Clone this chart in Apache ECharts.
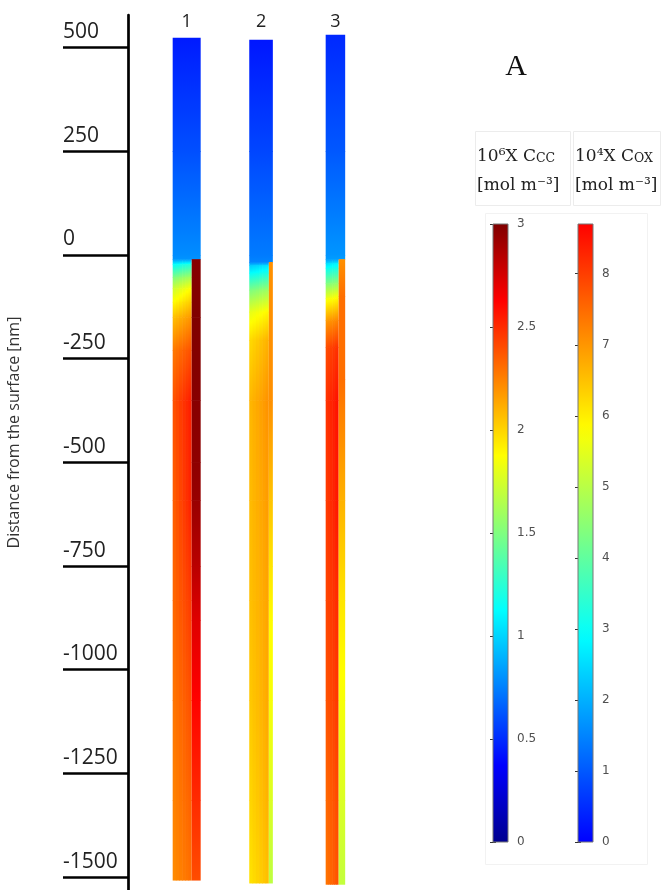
<!DOCTYPE html>
<html>
<head>
<meta charset="utf-8">
<script src="https://cdn.jsdelivr.net/npm/echarts@6.0.0/dist/echarts.min.js"></script>
<style>html,body{margin:0;padding:0;background:#fff;}#chart{width:661px;height:890px;}</style>
</head>
<body>
<div id="chart"></div>
<script>
// ---------- tick labels / categories ----------
const columnLabels = ['1', '2', '3'];
const depthTicks = [-1500, -1250, -1000, -750, -500, -250, 0, 250, 500];
const cccTicks = [0, 0.5, 1, 1.5, 2, 2.5, 3];
const coxTicks = [0, 1, 2, 3, 4, 5, 6, 7, 8];
const cccMax = 3;
const coxMax = 8.7;
const interfaceDepth = [-10, -17, -10];

// ---------- column 1 ----------
const col1OxDepth = [524, 250, 0, -10, -22, -53, -80, -113, -150, -229, -350, -591, -832, -1073, -1314, -1507];
const col1OxLeft  = [0.3, 0.9, 1.6, 1.7, 2.9, 4.3, 5.2, 5.8, 6.5, 7.3, 7.75, 7.6, 7.5, 7.35, 7.2, 7.1];
const col1OxRight = [0.3, 0.9, 1.6, 1.7, 3.3, 4.8, 5.8, 6.4, 7.0, 7.8, 8.4, 8.35, 8.05, 7.8, 7.6, 7.45];
const col1CcDepth = [-10, -150, -350, -500, -591, -750, -880, -1073, -1314, -1507];
const col1Cc      = [2.98, 3.0, 2.98, 2.96, 2.93, 2.83, 2.72, 2.62, 2.5, 2.4];

// ---------- column 2 ----------
const col2OxDepth = [519, 250, 0, -17, -25, -43, -84, -137, -205, -350, -591, -832, -1073, -1314, -1514];
const col2OxLeft  = [0.25, 0.8, 1.4, 1.5, 2.3, 2.9, 4.3, 5.5, 6.2, 6.6, 6.55, 6.5, 6.4, 6.25, 6.1];
const col2OxRight = [0.25, 0.8, 1.4, 1.5, 2.6, 3.2, 4.7, 5.9, 6.7, 7.05, 6.95, 6.85, 6.8, 6.7, 6.55];
const col2CcDepth = [-17, -350, -591, -750, -880, -1073, -1314, -1514];
const col2Cc      = [2.2, 2.2, 2.05, 1.95, 1.88, 1.85, 1.77, 1.68];

// ---------- column 3 ----------
const col3OxDepth = [531, 250, 0, -10, -20, -31, -68, -104, -157, -222, -350, -591, -832, -1073, -1314, -1517];
const col3OxLeft  = [0.45, 1.0, 1.7, 1.8, 2.5, 3.0, 4.3, 5.6, 6.9, 7.8, 8.1, 8.0, 7.9, 7.75, 7.5, 7.35];
const col3OxRight = [0.45, 1.0, 1.7, 1.8, 2.8, 3.2, 4.6, 5.9, 7.2, 8.2, 8.55, 8.5, 8.25, 8.1, 7.9, 7.8];
const col3CcDepth = [-10, -100, -300, -591, -832, -1073, -1314, -1517];
const col3Cc      = [2.2, 2.3, 2.3, 2.1, 1.95, 1.85, 1.77, 1.7];

// ---------- layout / style (not data) ----------
const layout = { colWidth: [28, 23.6, 19.5], stripWidth: [9, 4, 6.5] };
const jetStops = [[0, [0, 0, 143]], [0.125, [0, 0, 255]], [0.375, [0, 255, 255]], [0.625, [255, 255, 0]], [0.875, [255, 0, 0]], [1, [128, 0, 0]]];
const rainbowStops = [[0, [0, 0, 255]], [1 / 3, [0, 255, 255]], [2 / 3, [255, 255, 0]], [1, [255, 0, 0]]];

function makeMap(stops) {
  return function (t) {
    t = Math.max(0, Math.min(1, t));
    for (let i = 0; i < stops.length - 1; i++) {
      const a = stops[i], b = stops[i + 1];
      if (t <= b[0]) {
        const f = (t - a[0]) / (b[0] - a[0]);
        const c = a[1].map((v, k) => Math.round(v + (b[1][k] - v) * f));
        return 'rgb(' + c.join(',') + ')';
      }
    }
    const l = stops[stops.length - 1][1];
    return 'rgb(' + l.join(',') + ')';
  };
}
const jet = makeMap(jetStops);
const rainbow = makeMap(rainbowStops);

function vGradient(vTop, vBot, map, max) {
  const M = 8, stops = [];
  for (let j = 0; j <= M; j++) {
    const v = vTop + (vBot - vTop) * j / M;
    stops.push({ offset: j / M, color: map(v / max) });
  }
  return new echarts.graphic.LinearGradient(0, 0, 0, 1, stops);
}

const oxCols = [
  { depth: col1OxDepth, left: col1OxLeft, right: col1OxRight },
  { depth: col2OxDepth, left: col2OxLeft, right: col2OxRight },
  { depth: col3OxDepth, left: col3OxLeft, right: col3OxRight }
];
const ccCols = [
  { depth: col1CcDepth, val: col1Cc },
  { depth: col2CcDepth, val: col2Cc },
  { depth: col3CcDepth, val: col3Cc }
];

const oxData = [];
oxCols.forEach((c, ci) => {
  for (let i = 0; i < c.depth.length - 1; i++) {
    oxData.push([ci + 1, c.depth[i], c.depth[i + 1], c.left[i], c.left[i + 1], c.right[i], c.right[i + 1], ci]);
  }
});
const ccData = [];
ccCols.forEach((c, ci) => {
  for (let i = 0; i < c.depth.length - 1; i++) {
    ccData.push([ci + 1, c.depth[i], c.depth[i + 1], c.val[i], c.val[i + 1], ci]);
  }
});

function renderOx(params, api) {
  const x = api.value(0), dT = api.value(1), dB = api.value(2);
  const lT = api.value(3), lB = api.value(4), rT = api.value(5), rB = api.value(6);
  const ci = api.value(7);
  const pT = api.coord([x, dT]), pB = api.coord([x, dB]);
  const w = layout.colWidth[ci], sw = layout.stripWidth[ci];
  const full = dB >= interfaceDepth[ci] - 1e-9;
  const x0 = pT[0] - w / 2;
  const x1 = full ? pT[0] + w / 2 : pT[0] + w / 2 - sw;
  const N = full ? 1 : 6;
  const children = [];
  const sliceW = (x1 - x0) / N;
  for (let k = 0; k < N; k++) {
    const f = N === 1 ? 0.5 : (k + 0.5) / N;
    const vt = lT + (rT - lT) * f, vb = lB + (rB - lB) * f;
    children.push({
      type: 'rect',
      shape: { x: x0 + k * sliceW, y: pT[1], width: sliceW + (k < N - 1 ? 0.6 : 0), height: pB[1] - pT[1] + 0.6 },
      style: { fill: vGradient(vt, vb, rainbow, coxMax) }
    });
  }
  return { type: 'group', children: children };
}

function renderCc(params, api) {
  const x = api.value(0), dT = api.value(1), dB = api.value(2);
  const vT = api.value(3), vB = api.value(4), ci = api.value(5);
  const pT = api.coord([x, dT]), pB = api.coord([x, dB]);
  const w = layout.colWidth[ci], sw = layout.stripWidth[ci];
  const x1 = pT[0] + w / 2;
  return {
    type: 'rect',
    shape: { x: x1 - sw, y: pT[1], width: sw, height: pB[1] - pT[1] + 0.6 },
    style: { fill: vGradient(vT, vB, jet, cccMax) }
  };
}

function renderBar(map, max) {
  return function (params, api) {
    const p0 = api.coord([0, api.value(1)]);
    const p1 = api.coord([1, api.value(0)]);
    const M = 40, stops = [];
    for (let j = 0; j <= M; j++) stops.push({ offset: j / M, color: map(1 - j / M) });
    return {
      type: 'rect',
      shape: { x: p0[0], y: p0[1], width: p1[0] - p0[0], height: p1[1] - p0[1] },
      style: { fill: new echarts.graphic.LinearGradient(0, 0, 0, 1, stops), stroke: '#777', lineWidth: 1 }
    };
  };
}

const chart = echarts.init(document.getElementById('chart'), null, { renderer: 'canvas' });
const barLabel = { fontFamily: 'DejaVu Sans', fontSize: 12, color: '#505050' };
const barTick = { show: true, inside: true, length: 3, lineStyle: { color: '#333', width: 1 } };

const option = {
  backgroundColor: '#fff',
  animation: false,
  grid: [
    { left: 128, top: 15, width: 281.8, height: 875 },
    { left: 493, top: 224, width: 15, height: 618 },
    { left: 578, top: 224, width: 15, height: 618 }
  ],
  xAxis: [
    {
      gridIndex: 0, type: 'value', min: 0.211, max: 4, position: 'top',
      axisLine: { show: false, onZero: false }, axisTick: { show: false }, splitLine: { show: false },
      axisLabel: {
        customValues: [1, 2, 3], margin: -16,
        formatter: v => columnLabels[Math.round(v) - 1],
        fontFamily: 'Open Sans', fontSize: 18, color: '#222'
      }
    },
    { gridIndex: 1, type: 'value', min: 0, max: 1, show: false },
    { gridIndex: 2, type: 'value', min: 0, max: 1, show: false }
  ],
  yAxis: [
    {
      gridIndex: 0, type: 'value', min: -1531.2, max: 578.7, position: 'left',
      splitLine: { show: false },
      axisLine: { show: true, onZero: false, lineStyle: { color: '#000', width: 2.7 } },
      axisTick: { show: true, customValues: depthTicks, length: 65, lineStyle: { color: '#000', width: 2.7 } },
      axisLabel: {
        customValues: depthTicks, align: 'left', margin: 65, verticalAlign: 'bottom',
        formatter: v => String(v),
        padding: [0, 0, 5, 0], fontFamily: 'Open Sans', fontSize: 21, color: '#222'
      },
      name: 'Distance from the surface [nm]', nameLocation: 'middle', nameGap: 106, nameRotate: 90,
      nameTextStyle: { fontFamily: 'Open Sans', fontSize: 16, color: '#333', padding: [0, 0, 0, 40] }
    },
    {
      gridIndex: 1, type: 'value', min: 0, max: cccMax, position: 'right', splitLine: { show: false },
      axisLine: { show: false }, axisTick: Object.assign({ customValues: cccTicks }, barTick),
      axisLabel: Object.assign({ customValues: cccTicks, margin: 9, formatter: v => String(v) }, barLabel)
    },
    {
      gridIndex: 1, type: 'value', min: 0, max: cccMax, position: 'left', splitLine: { show: false },
      axisLine: { show: false }, axisTick: Object.assign({ customValues: cccTicks }, barTick),
      axisLabel: { show: false }
    },
    {
      gridIndex: 2, type: 'value', min: 0, max: coxMax, position: 'right', splitLine: { show: false },
      axisLine: { show: false }, axisTick: Object.assign({ customValues: coxTicks }, barTick),
      axisLabel: Object.assign({ customValues: coxTicks, margin: 9, formatter: v => String(v) }, barLabel)
    },
    {
      gridIndex: 2, type: 'value', min: 0, max: coxMax, position: 'left', splitLine: { show: false },
      axisLine: { show: false }, axisTick: Object.assign({ customValues: coxTicks }, barTick),
      axisLabel: { show: false }
    }
  ],
  series: [
    { type: 'custom', xAxisIndex: 0, yAxisIndex: 0, renderItem: renderOx, data: oxData, clip: false, encode: { x: 0, y: [1, 2] }, silent: true },
    { type: 'custom', xAxisIndex: 0, yAxisIndex: 0, renderItem: renderCc, data: ccData, clip: false, encode: { x: 0, y: [1, 2] }, silent: true },
    { type: 'custom', xAxisIndex: 1, yAxisIndex: 1, renderItem: renderBar(jet, cccMax), data: [[cccMax, 0]], clip: false, silent: true, z: 1 },
    { type: 'custom', xAxisIndex: 2, yAxisIndex: 3, renderItem: renderBar(rainbow, coxMax), data: [[coxMax, 0]], clip: false, silent: true, z: 1 }
  ],
  graphic: [
    { type: 'rect', shape: { x: 475.5, y: 131.5, width: 95, height: 74 }, style: { fill: 'none', stroke: '#ececec', lineWidth: 1 }, silent: true },
    { type: 'rect', shape: { x: 573.5, y: 131.5, width: 87, height: 74 }, style: { fill: 'none', stroke: '#ececec', lineWidth: 1 }, silent: true },
    { type: 'rect', shape: { x: 485.5, y: 213.5, width: 162, height: 651 }, style: { fill: 'none', stroke: '#f2f2f2', lineWidth: 1 }, silent: true },
    {
      type: 'text', x: 516, y: 67, silent: true,
      style: { text: 'A', fontFamily: 'Liberation Serif', fontSize: 30, fill: '#111', align: 'center', verticalAlign: 'middle' }
    },
    {
      type: 'text', x: 477, y: 155, silent: true,
      style: {
        text: '{a|10⁶X C}{b|CC}', verticalAlign: 'middle', align: 'left',
        rich: {
          a: { fontFamily: 'DejaVu Serif', fontSize: 17, fill: '#222', verticalAlign: 'bottom', lineHeight: 20 },
          b: { fontFamily: 'DejaVu Serif', fontSize: 12.5, fill: '#222', verticalAlign: 'bottom', lineHeight: 20 }
        }
      }
    },
    {
      type: 'text', x: 477, y: 186, silent: true,
      style: { text: '[mol m⁻³]', fontFamily: 'DejaVu Serif', fontSize: 17, fill: '#222', align: 'left', verticalAlign: 'middle' }
    },
    {
      type: 'text', x: 575, y: 155, silent: true,
      style: {
        text: '{a|10⁴X C}{b|OX}', verticalAlign: 'middle', align: 'left',
        rich: {
          a: { fontFamily: 'DejaVu Serif', fontSize: 17, fill: '#222', verticalAlign: 'bottom', lineHeight: 20 },
          b: { fontFamily: 'DejaVu Serif', fontSize: 12.5, fill: '#222', verticalAlign: 'bottom', lineHeight: 20 }
        }
      }
    },
    {
      type: 'text', x: 575, y: 186, silent: true,
      style: { text: '[mol m⁻³]', fontFamily: 'DejaVu Serif', fontSize: 17, fill: '#222', align: 'left', verticalAlign: 'middle' }
    }
  ]
};
chart.setOption(option);
</script>
</body>
</html>
